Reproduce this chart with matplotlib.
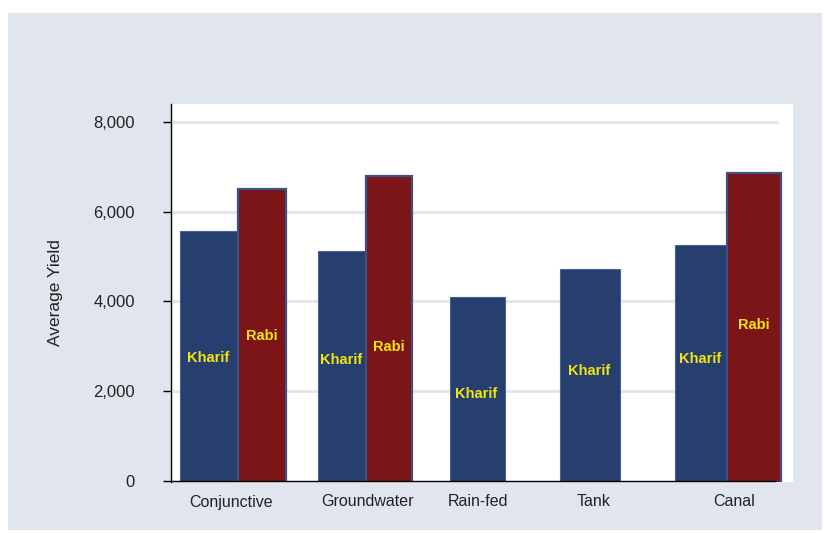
import matplotlib.pyplot as plt
import numpy as np
from matplotlib.patches import Rectangle

plt.rcParams['font.family'] = ['Liberation Sans', 'DejaVu Sans']

# average yield by irrigation source and season
categories = ['Conjunctive', 'Groundwater', 'Rain-fed', 'Tank', 'Canal']
kharif = [5560, 5120, 4100, 4730, 5250]
rabi = [6500, 6790, np.nan, np.nan, 6860]

# hand-placed bar layout (x in pixel-like units of the plot area)
kharif_left = [180, 318, 450, 560, 675]
kharif_width = [58, 48, 55, 60, 52]
rabi_left = [238, 366, 0, 0, 727]
rabi_width = [48, 46, 0, 0, 54]
label_x = [231, 368, 478, 594, 734]
# heights where the in-bar season labels sit
kharif_label_y = [2740, 2700, 1940, 2450, 2720]
rabi_label_y = [3230, 2990, 0, 0, 3470]

fig = plt.figure(figsize=(8.24, 5.33), dpi=100)
bg = Rectangle((8 / 824, 3 / 533), 814 / 824, 517 / 533,
               transform=fig.transFigure, facecolor='#e1e5ee',
               edgecolor='none', zorder=-10)
fig.patches.append(bg)

ax = fig.add_axes([171 / 824, 51 / 533, 622 / 824, 378 / 533])
ax.set_facecolor('white')
ax.set_xlim(171, 793)
ax.set_ylim(-25, 8400)

for y in [2000, 4000, 6000, 8000]:
    ax.plot([171, 777], [y, y], color='#e1e5ee', lw=2, zorder=1)

kh_col = '#263f6e'
rb_col = '#7b1518'
lab_col = '#f2e411'
for i in range(len(categories)):
    l, w = kharif_left[i], kharif_width[i]
    ax.bar(l, kharif[i] + 40, bottom=-40, width=w, align='edge', color=kh_col,
           edgecolor='#4a6292', lw=0.8, zorder=2)
    ax.text(l + w / 2 - 1, kharif_label_y[i], 'Kharif', color=lab_col,
            fontsize=10.5, fontweight='bold', ha='center', va='center', zorder=4)
    if not np.isnan(rabi[i]):
        l2, w2 = rabi_left[i], rabi_width[i]
        ax.bar(l2, rabi[i] + 40, bottom=-40, width=w2, align='edge', color=rb_col,
               edgecolor='#3a5285', lw=1.6, zorder=3)
        ax.text(l2 + w2 / 2, rabi_label_y[i], 'Rabi', color=lab_col,
                fontsize=10.5, fontweight='bold', ha='center', va='center', zorder=4)

ax.plot([171, 775], [0, 0], color='black', lw=1, zorder=5, clip_on=False)

for s in ['top', 'right', 'bottom']:
    ax.spines[s].set_visible(False)
ax.spines['left'].set_linewidth(1)

ax.set_yticks([0, 2000, 4000, 6000, 8000])
ax.set_yticklabels(['0', '2,000', '4,000', '6,000', '8,000'], fontsize=12, color='#222222')
ax.tick_params(axis='y', length=6, width=1, pad=20)
ax.set_xticks(label_x)
ax.set_xticklabels(categories, fontsize=11.5, color='#222222')
ax.tick_params(axis='x', length=0, pad=9)

ax.set_ylabel('Average Yield', fontsize=12.5, color='#222222', labelpad=22)

fig.savefig('out.png', dpi=100)
